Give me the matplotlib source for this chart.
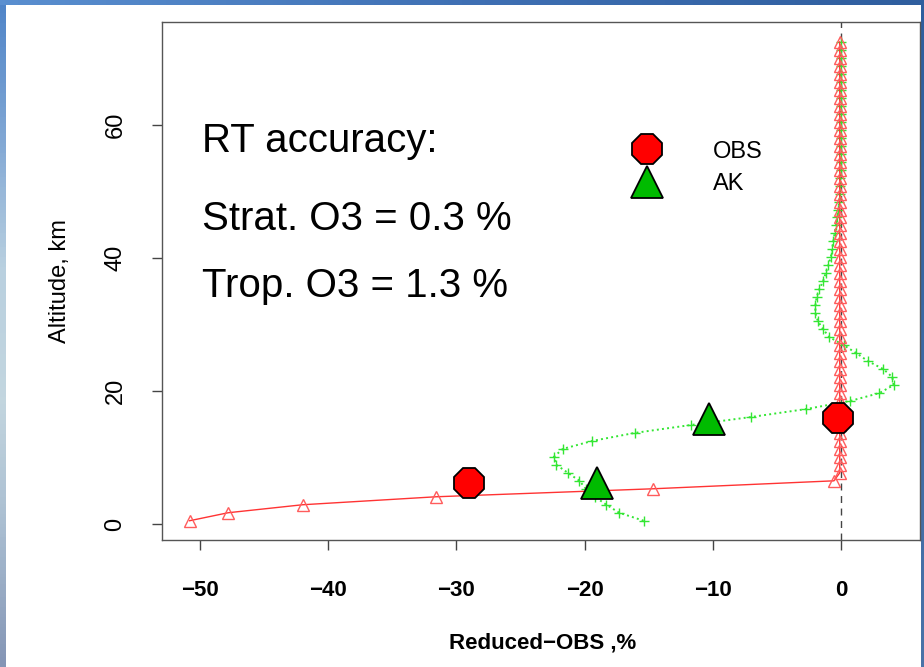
import numpy as np
import matplotlib.pyplot as plt
from matplotlib.lines import Line2D
from matplotlib.colors import LinearSegmentedColormap

plt.rcParams['font.family'] = ['Liberation Sans', 'DejaVu Sans']

# altitude levels of the profiles, km
altitude_km = [0.5, 1.7, 2.9, 4.1, 5.3, 6.5, 7.7, 8.9, 10.1, 11.3,
               12.5, 13.7, 14.9, 16.1, 17.3, 18.5, 19.7, 20.9, 22.1, 23.3,
               24.5, 25.7, 26.9, 28.1, 29.3, 30.5, 31.7, 32.9, 34.1, 35.3,
               36.5, 37.7, 38.9, 40.1, 41.3, 42.5, 43.7, 44.9, 46.1, 47.3,
               48.5, 49.7, 50.9, 52.1, 53.3, 54.5, 55.7, 56.9, 58.1, 59.3,
               60.5, 61.7, 62.9, 64.1, 65.3, 66.5, 67.7, 68.9, 70.1, 71.3,
               72.5]

# reduced minus OBS, % (red profile)
obs_diff = [-50.8, -47.8, -42.0, -31.6, -14.7, -0.55, -0.1, -0.1, -0.1, -0.1,
            -0.1, -0.1, -0.1, -0.1, -0.1, -0.1, -0.1, -0.1, -0.1, -0.1,
            -0.1, -0.1, -0.1, -0.1, -0.1, -0.1, -0.1, -0.1, -0.1, -0.1,
            -0.1, -0.1, -0.1, -0.1, -0.1, -0.1, -0.1, -0.1, -0.1, -0.1,
            -0.1, -0.1, -0.1, -0.1, -0.1, -0.1, -0.1, -0.1, -0.1, -0.1,
            -0.1, -0.1, -0.1, -0.1, -0.1, -0.1, -0.1, -0.1, -0.1, -0.1,
            -0.1]

# reduced minus OBS after averaging kernels, % (green profile)
ak_diff = [-15.4, -17.3, -18.3, -19.2, -19.9, -20.4, -21.3, -22.2, -22.4, -21.7,
           -19.4, -16.1, -11.7, -7.0, -2.7, 0.7, 3.0, 4.1, 4.0, 3.3,
           2.1, 1.2, 0.2, -0.9, -1.4, -1.8, -2.0, -2.0, -1.9, -1.7,
           -1.4, -1.2, -1.0, -0.8, -0.7, -0.6, -0.5, -0.4, -0.3, -0.2,
           -0.15, -0.1, -0.05, -0.05, 0.0, 0.0, 0.0, 0.0, 0.0, 0.0,
           0.0, 0.0, 0.0, 0.0, 0.0, 0.0, 0.0, 0.0, 0.0, 0.0,
           0.0]

# partial column values (big markers)
obs_col_alt = [6.2, 15.9]
obs_col_val = [-29.0, -0.2]
ak_col_alt = [6.2, 15.8]
ak_col_val = [-19.0, -10.3]

x_ticks = [-50, -40, -30, -20, -10, 0]
y_ticks = [0, 20, 40, 60]
notes = ["RT accuracy:", "Strat. O3 = 0.3 %", "Trop. O3 = 1.3 %"]

W, H = 924, 667
fig = plt.figure(figsize=(W / 100, H / 100), dpi=100)
fig.patch.set_facecolor('white')

# blue frame strips of the slide background
left_cm = LinearSegmentedColormap.from_list(
    'left', ['#4f84c8', '#7fa6d4', '#b9d0e0', '#c3d6df', '#a8bcd0', '#8495b5'])
bg = fig.add_axes([0, 0, 6 / W, 1])
bg.imshow(np.linspace(0, 1, 200).reshape(-1, 1), aspect='auto', cmap=left_cm)
bg.axis('off')
top_cm = LinearSegmentedColormap.from_list('top', ['#5a8fd0', '#3f70b4', '#2f5e9e'])
bt = fig.add_axes([0, 1 - 5 / H, 1, 5 / H])
bt.imshow(np.linspace(0, 1, 200).reshape(1, -1), aspect='auto', cmap=top_cm)
bt.axis('off')
br = fig.add_axes([1 - 3 / W, 0, 3 / W, 1])
br.imshow(np.linspace(0, 1, 200).reshape(-1, 1), aspect='auto',
          cmap=LinearSegmentedColormap.from_list('r', ['#2f5e9e', '#3b6aa5', '#4a73a8']))
br.axis('off')

ax = fig.add_axes([162 / W, 1 - 540 / H, 758 / W, 518 / H])

ax.axvline(0, color='#444444', lw=1, dashes=(5, 4), zorder=1)

ax.plot(ak_diff, altitude_km, color='#33e633', ls=':', lw=1.4,
        marker='+', ms=7, mew=1, zorder=2)
ax.plot(obs_diff, altitude_km, color='#ff3333', ls='-', lw=1,
        marker='^', ms=8, mfc='none', mec='#ff5c5c', mew=1, zorder=3)

ax.plot(obs_col_val, obs_col_alt, ls='none', marker='8', ms=24,
        mfc='#ff0000', mec='black', mew=1.3, zorder=5)
ax.plot(ak_col_val, ak_col_alt, ls='none', marker='^', ms=23,
        mfc='#00bb00', mec='black', mew=1.3, zorder=5)

ax.set_xlim(-52.96, 6.16)
ax.set_ylim(-2.4, 75.5)
ax.set_xticks(x_ticks)
ax.set_yticks(y_ticks)
ax.set_xticklabels([('\u2212%d' % -v) if v < 0 else str(v) for v in x_ticks],
                   fontsize=16, fontweight='bold')
ax.set_yticklabels([str(v) for v in y_ticks], fontsize=17, rotation=90, va='center')
ax.tick_params(axis='x', length=7.5, width=1, color='#444444', pad=21)
ax.tick_params(axis='y', length=7.5, width=1, color='#444444', pad=18)
for s in ax.spines.values():
    s.set_color('#555555')
    s.set_linewidth(1)

fig.text(543 / W, 1 - 643 / H, "Reduced\u2212OBS ,%", fontsize=16, fontweight='bold',
         ha='center', va='center')
fig.text(60 / W, 1 - 281 / H, "Altitude, km", fontsize=17, rotation=90,
         ha='center', va='center')

for txt, yb in zip(notes, [152, 230, 297]):
    ax.text(40 / 758, (540 - yb) / 518, txt, transform=ax.transAxes,
            fontsize=29, ha='left', va='baseline')

handles = [Line2D([], [], ls='none', marker='8', ms=24, mfc='#ff0000',
                  mec='black', mew=1.3),
           Line2D([], [], ls='none', marker='^', ms=23, mfc='#00bb00',
                  mec='black', mew=1.3)]
ax.legend(handles, ['OBS', 'AK'], loc='center', bbox_to_anchor=(0.708, 0.718),
          frameon=False, fontsize=17, handlelength=1.0, handletextpad=2.3,
          labelspacing=0.45, borderpad=0)

fig.savefig('out.png', dpi=100)
